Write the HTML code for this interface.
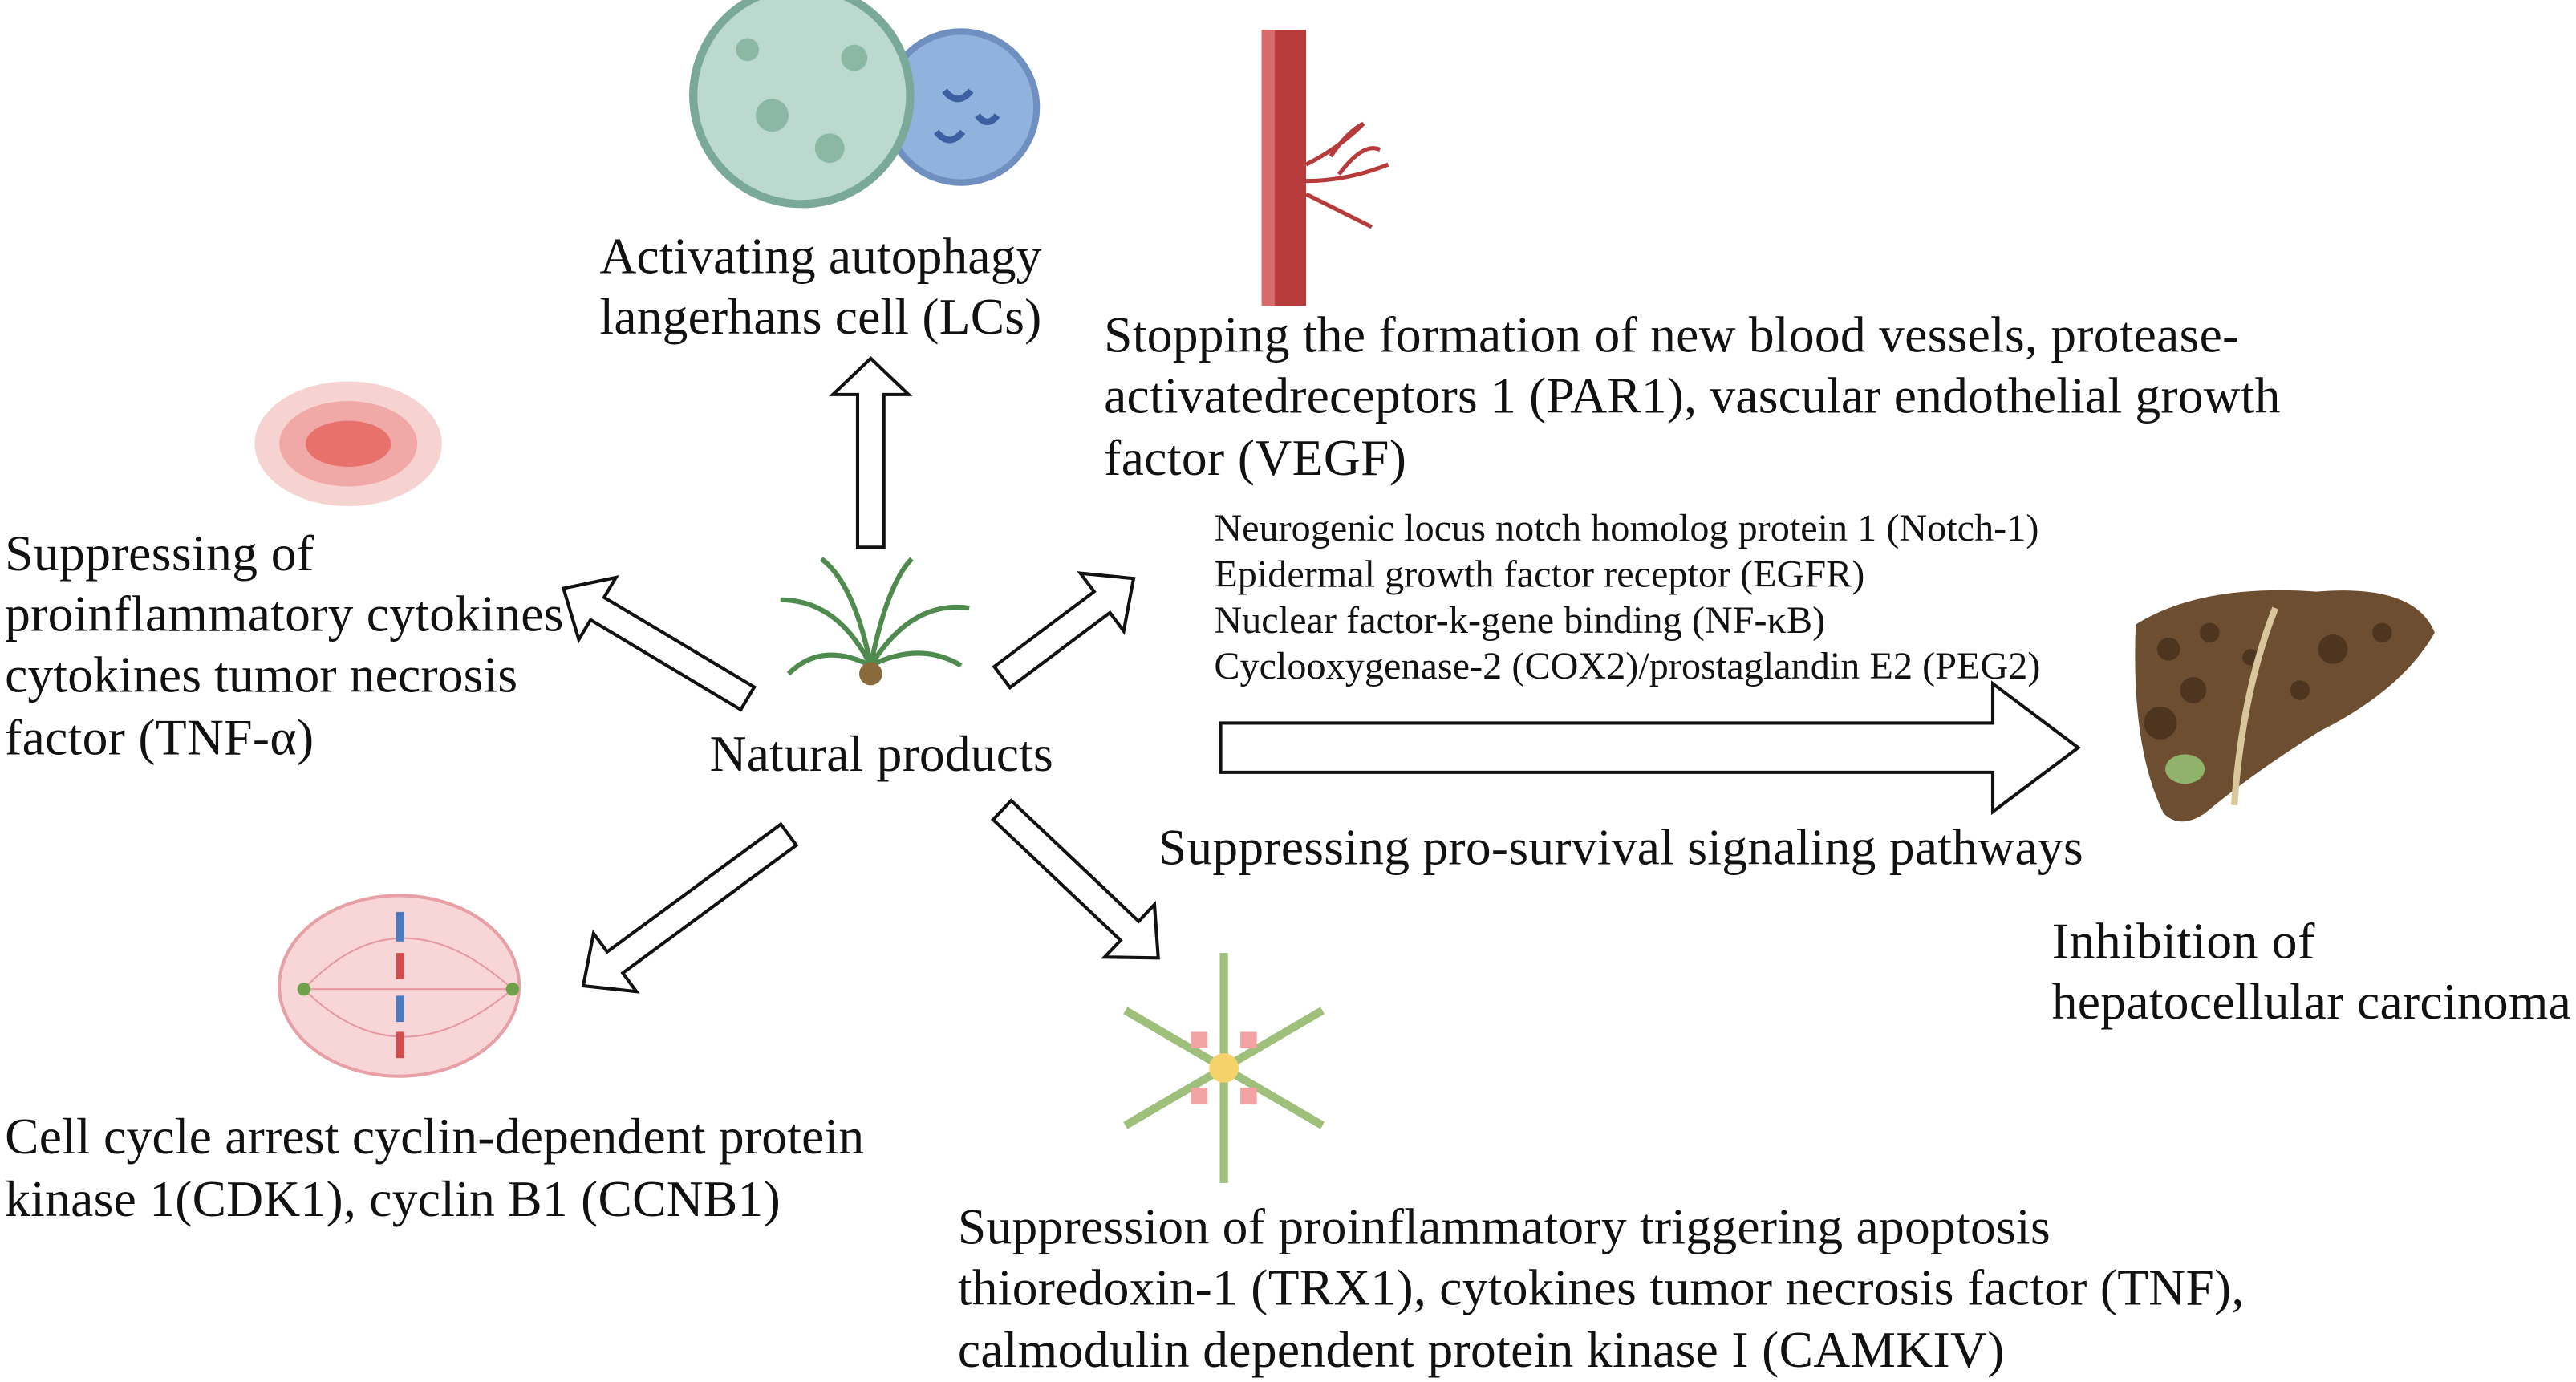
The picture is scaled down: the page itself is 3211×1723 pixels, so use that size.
<!DOCTYPE html>
<html><head><meta charset="utf-8"><style>
html,body{margin:0;padding:0;background:#fff;}
svg{display:block;}
text{font-family:"Liberation Serif",serif;fill:#111;}
.m{font-size:31px;}
.s{font-size:23.5px;}
</style></head><body>
<svg width="3211" height="1723" viewBox="0 0 1568 841" xmlns="http://www.w3.org/2000/svg">
<rect width="1568" height="841" fill="#fff"/>
<!-- autophagy cell -->
<circle cx="585" cy="65" r="46" fill="#8fb3dc" stroke="#6f8fc0" stroke-width="4"/>
<circle cx="488" cy="58" r="66" fill="#bcd9cf" stroke="#7aa99a" stroke-width="5"/>
<circle cx="470" cy="70" r="10" fill="#8ab8a5"/><circle cx="505" cy="90" r="9" fill="#8ab8a5"/>
<circle cx="520" cy="35" r="8" fill="#8ab8a5"/><circle cx="455" cy="30" r="7" fill="#8ab8a5"/>
<path d="M575 55 q8 10 16 0 M570 80 q8 10 16 0 M595 70 q6 8 12 0" stroke="#3b5fa0" stroke-width="4" fill="none"/>
<!-- blood vessel -->
<rect x="768" y="18" width="27" height="168" fill="#b73b3b"/>
<rect x="768" y="18" width="8" height="168" fill="#d76a6a"/>
<path d="M795 100 q20 -10 35 -25 M795 110 q25 0 50 -10 M795 118 q20 10 40 20 M810 95 q10 -15 20 -20 M815 106 q15 -20 25 -15" stroke="#b73b3b" stroke-width="2.5" fill="none"/>
<!-- inflammation blob -->
<ellipse cx="212" cy="270" rx="57" ry="38" fill="#f6d3d1"/>
<ellipse cx="212" cy="270" rx="42" ry="26" fill="#f0a9a6"/>
<ellipse cx="212" cy="270" rx="26" ry="14" fill="#e8716c"/>
<!-- fern -->
<g stroke="#4f8a4f" stroke-width="3" fill="none">
<path d="M530 405 q-20 -40 -55 -40 M530 405 q-10 -50 -30 -65 M530 405 q10 -50 25 -65 M530 405 q25 -40 60 -35 M530 405 q30 -15 55 0 M530 405 q-30 -15 -50 5"/>
</g>
<circle cx="530" cy="410" r="7" fill="#8a6a3a"/>
<!-- liver -->
<path d="M1300 380 q40 -25 110 -20 q60 -5 72 25 q-20 35 -70 60 q-40 25 -70 50 q-15 10 -25 0 q-20 -40 -17 -115z" fill="#6e4e30"/>
<g fill="#4e3520"><circle cx="1320" cy="395" r="7"/><circle cx="1345" cy="385" r="6"/><circle cx="1335" cy="420" r="8"/><circle cx="1420" cy="395" r="9"/><circle cx="1450" cy="385" r="6"/><circle cx="1400" cy="420" r="6"/><circle cx="1315" cy="440" r="10"/><circle cx="1370" cy="400" r="5"/></g>
<path d="M1385 370 q-20 50 -25 120" stroke="#d8c79a" stroke-width="4" fill="none"/>
<ellipse cx="1330" cy="468" rx="12" ry="9" fill="#8fb36a"/>
<!-- spindle -->
<ellipse cx="243" cy="600" rx="73" ry="55" fill="#f8d6d8" stroke="#e7a0a6" stroke-width="2"/>
<path d="M185 602 Q243 540 312 602 Q243 660 185 602 M185 602 L312 602" stroke="#e49aa0" fill="none"/>
<rect x="241" y="555" width="5" height="18" fill="#4b7ac0"/><rect x="241" y="580" width="5" height="16" fill="#d14c4c"/>
<rect x="241" y="606" width="5" height="16" fill="#4b7ac0"/><rect x="241" y="628" width="5" height="16" fill="#d14c4c"/>
<circle cx="185" cy="602" r="4" fill="#6ea14a"/><circle cx="312" cy="602" r="4" fill="#6ea14a"/>
<!-- apoptosis star -->
<g transform="translate(745,650)" stroke="#9fc07a" stroke-width="5">
<line x1="0" y1="-70" x2="0" y2="70"/><line x1="-60" y1="-35" x2="60" y2="35"/><line x1="-60" y1="35" x2="60" y2="-35"/>
</g>
<g transform="translate(745,650)" fill="#f2a3a3"><rect x="-20" y="-22" width="10" height="10"/><rect x="10" y="-22" width="10" height="10"/><rect x="-20" y="12" width="10" height="10"/><rect x="10" y="12" width="10" height="10"/><circle r="9" fill="#f6d36a"/></g>
<!-- arrows -->
<g id="arrows" fill="#fff" stroke="#111" stroke-width="2"></g>
<!-- text -->
<text class="m" x="365" y="166" textLength="269">Activating autophagy</text>
<text class="m" x="365" y="203" textLength="269">langerhans cell (LCs)</text>
<text class="m" x="672" y="214" textLength="691">Stopping the formation of new blood vessels, protease-</text>
<text class="m" x="672" y="251" textLength="716">activatedreceptors 1 (PAR1), vascular endothelial growth</text>
<text class="m" x="672" y="289" textLength="184">factor (VEGF)</text>
<text class="s" x="739" y="329" textLength="502">Neurogenic locus notch homolog protein 1 (Notch-1)</text>
<text class="s" x="739" y="357" textLength="396">Epidermal growth factor receptor (EGFR)</text>
<text class="s" x="739" y="385" textLength="372">Nuclear factor-k-gene binding (NF-κB)</text>
<text class="s" x="739" y="413" textLength="503">Cyclooxygenase-2 (COX2)/prostaglandin E2 (PEG2)</text>
<text class="m" x="3" y="347" textLength="188">Suppressing of</text>
<text class="m" x="3" y="384" textLength="340">proinflammatory cytokines</text>
<text class="m" x="3" y="421" textLength="312">cytokines tumor necrosis</text>
<text class="m" x="3" y="459" textLength="188">factor (TNF-α)</text>
<text class="m" x="432" y="469" textLength="209">Natural products</text>
<text class="m" x="705" y="526" textLength="563">Suppressing pro-survival signaling pathways</text>
<text class="m" x="1249" y="583" textLength="160">Inhibition of</text>
<text class="m" x="1249" y="620" textLength="316">hepatocellular carcinoma</text>
<text class="m" x="3" y="702" textLength="523">Cell cycle arrest cyclin-dependent protein</text>
<text class="m" x="3" y="740" textLength="472">kinase 1(CDK1), cyclin B1 (CCNB1)</text>
<text class="m" x="583" y="757" textLength="665">Suppression of proinflammatory triggering apoptosis</text>
<text class="m" x="583" y="794" textLength="783">thioredoxin-1 (TRX1), cytokines tumor necrosis factor (TNF),</text>
<text class="m" x="583" y="832" textLength="637">calmodulin dependent protein kinase I (CAMKIV)</text>
</svg>
<script>
function arrow(x1,y1,x2,y2,sw,hw,hl){
 var dx=x2-x1,dy=y2-y1,L=Math.hypot(dx,dy),ux=dx/L,uy=dy/L,nx=-uy,ny=ux;
 var bx=x2-ux*hl,by=y2-uy*hl;
 var p=[[x1+nx*sw,y1+ny*sw],[bx+nx*sw,by+ny*sw],[bx+nx*hw,by+ny*hw],[x2,y2],[bx-nx*hw,by-ny*hw],[bx-nx*sw,by-ny*sw],[x1-nx*sw,y1-ny*sw]];
 var g=document.getElementById('arrows');
 var e=document.createElementNS('http://www.w3.org/2000/svg','polygon');
 e.setAttribute('points',p.map(function(q){return q[0].toFixed(1)+','+q[1].toFixed(1)}).join(' '));
 g.appendChild(e);
}
arrow(530,333,530,218,8,23,22);
arrow(455,425,343,358,8,22,24);
arrow(610,412,690,352,8,22,24);
arrow(743,455,1265,455,15,39,52);
arrow(480,508,355,600,8,22,24);
arrow(610,493,705,583,8,22,24);
</script>
</body></html>
